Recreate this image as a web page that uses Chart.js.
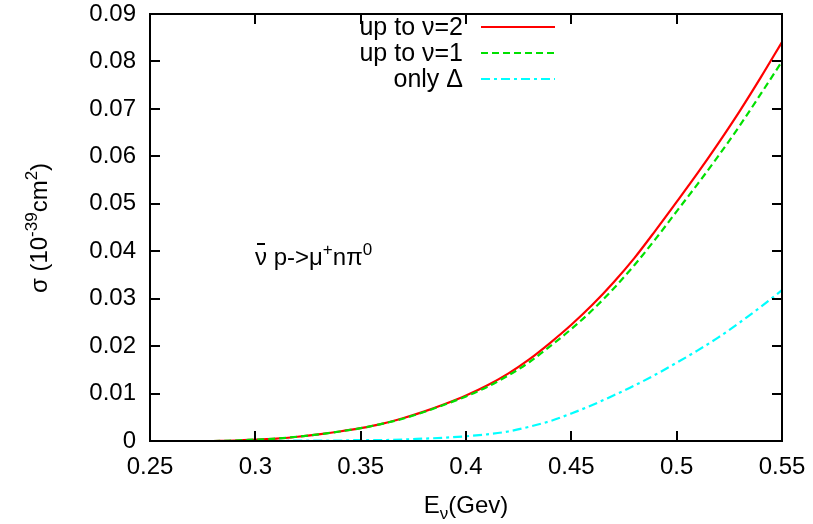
<!DOCTYPE html>
<html>
<head>
<meta charset="utf-8">
<script src="https://cdn.jsdelivr.net/npm/chart.js@4.4.1/dist/chart.umd.min.js"></script>
<style>
  html, body { margin: 0; padding: 0; background: #fff; }
  #wrap { width: 813px; height: 524px; }
</style>
</head>
<body>
<div id="wrap"><canvas id="chart" width="813" height="524"></canvas></div>
<script>
// neutrino energy (GeV)
const energies = [0.28, 0.29, 0.30, 0.31, 0.32, 0.33, 0.34, 0.35, 0.36, 0.37,
                  0.38, 0.39, 0.40, 0.41, 0.42, 0.43, 0.44, 0.45, 0.46, 0.47,
                  0.48, 0.49, 0.50, 0.51, 0.52, 0.53, 0.54, 0.55];
// sigma in 10^-39 cm^2
const upToNu2 = [0, 0.0001, 0.0003, 0.0005, 0.0009, 0.0014, 0.0020, 0.0027, 0.0036, 0.0048,
                 0.0062, 0.0078, 0.0096, 0.0117, 0.0142, 0.0172, 0.0207, 0.0245, 0.0287, 0.0334,
                 0.0386, 0.0444, 0.0504, 0.0565, 0.0629, 0.0696, 0.0767, 0.0841];
const upToNu1 = [0, 0.0001, 0.0003, 0.0005, 0.0009, 0.0014, 0.0020, 0.0027, 0.0036, 0.0047,
                 0.0061, 0.0077, 0.0094, 0.0114, 0.0138, 0.0166, 0.0200, 0.0236, 0.0276, 0.0321,
                 0.0371, 0.0426, 0.0484, 0.0542, 0.0602, 0.0665, 0.0732, 0.0800];
const onlyDelta = [0, 0, 0, 0, 0.0001, 0.0001, 0.0001, 0.0002, 0.0002, 0.0003,
                   0.0005, 0.0007, 0.0010, 0.0014, 0.0020, 0.0030, 0.0042, 0.0058, 0.0076, 0.0096,
                   0.0117, 0.0140, 0.0165, 0.0191, 0.0219, 0.0250, 0.0283, 0.0318];
const seriesNames = ['up to \u03bd=2', 'up to \u03bd=1', 'only \u0394'];
const xTicks = [0.25, 0.3, 0.35, 0.4, 0.45, 0.5, 0.55];
const yTicks = [0, 0.01, 0.02, 0.03, 0.04, 0.05, 0.06, 0.07, 0.08, 0.09];

const FONT = "'Liberation Sans', Arial, sans-serif";
Chart.defaults.font.family = FONT;
Chart.defaults.font.size = 24;
Chart.defaults.color = '#000';

const fmt = v => String(+(+v).toFixed(3));
const pts = arr => energies.map((e, i) => ({ x: e, y: arr[i] }));

// gnuplot style frame with inward ticks on every side
const framePlugin = {
  id: 'frame',
  afterDatasetsDraw(chart) {
    const { ctx, chartArea: a, scales } = chart;
    ctx.save();
    ctx.strokeStyle = '#000';
    ctx.lineWidth = 2;
    ctx.beginPath();
    const tl = 10;
    xTicks.forEach(t => {
      const px = Math.round(scales.x.getPixelForValue(t));
      ctx.moveTo(px, a.bottom); ctx.lineTo(px, a.bottom - tl);
      ctx.moveTo(px, a.top); ctx.lineTo(px, a.top + tl);
    });
    yTicks.forEach(t => {
      const py = Math.round(scales.y.getPixelForValue(t));
      ctx.moveTo(a.left, py); ctx.lineTo(a.left + tl, py);
      ctx.moveTo(a.right, py); ctx.lineTo(a.right - tl, py);
    });
    ctx.stroke();
    ctx.strokeRect(a.left, a.top, a.right - a.left, a.bottom - a.top);
    ctx.restore();
  }
};

// legend, axis titles and the reaction label
const textPlugin = {
  id: 'texts',
  afterDraw(chart) {
    const { ctx } = chart;
    ctx.save();
    ctx.fillStyle = '#000';
    ctx.textBaseline = 'alphabetic';
    const big = '24px ' + FONT, small = '17px ' + FONT;

    // legend
    chart.data.datasets.forEach((ds, i) => {
      const yb = 35 + i * 26;
      ctx.font = '25px ' + FONT;
      ctx.textAlign = 'right';
      ctx.fillText(ds.label, 463, yb);
      ctx.beginPath();
      ctx.strokeStyle = ds.borderColor;
      ctx.lineWidth = 2;
      ctx.setLineDash(ds.borderDash || []);
      ctx.moveTo(481, yb - 8);
      ctx.lineTo(555, yb - 8);
      ctx.stroke();
    });
    ctx.setLineDash([]);
    ctx.textAlign = 'left';

    // pieces: [text, superscript?]
    const drawRun = (parts, x, y) => {
      parts.forEach(([t, sup]) => {
        ctx.font = sup ? small : big;
        ctx.fillText(t, x, sup ? y - 10 : y);
        x += ctx.measureText(t).width;
      });
      return x;
    };
    const runWidth = parts => parts.reduce((w, [t, sup]) => {
      ctx.font = sup ? small : big;
      return w + ctx.measureText(t).width;
    }, 0);

    // x title with subscript nu
    ctx.font = big;
    const wE = ctx.measureText('E').width;
    ctx.font = small;
    const wNu = ctx.measureText('\u03bd').width;
    ctx.font = big;
    const wG = ctx.measureText('(Gev)').width;
    const x0 = 466 - (wE + wNu + wG) / 2;
    ctx.fillText('E', x0, 513);
    ctx.font = small;
    ctx.fillText('\u03bd', x0 + wE, 519);
    ctx.font = big;
    ctx.fillText('(Gev)', x0 + wE + wNu, 513);

    // y title
    const yt = [['\u03c3 (10', 0], ['-39', 1], ['cm', 0], ['2', 1], [')', 0]];
    ctx.save();
    ctx.translate(47, 228);
    ctx.rotate(-Math.PI / 2);
    drawRun(yt, -runWidth(yt) / 2, 0);
    ctx.restore();

    // reaction label
    const ax = 255, ay = 265;
    ctx.font = big;
    const wn = ctx.measureText('\u03bd').width;
    ctx.fillText('\u03bd', ax, ay);
    ctx.fillRect(ax + 2, ay - 22, wn - 4, 2);
    drawRun([[' p->\u03bc', 0], ['+', 1], ['n\u03c0', 0], ['0', 1]], ax + wn, ay);

    ctx.restore();
  }
};

new Chart(document.getElementById('chart'), {
  type: 'line',
  data: {
    datasets: [
      { label: seriesNames[0], data: pts(upToNu2), borderColor: '#ff0000', borderWidth: 2.2, order: 3 },
      { label: seriesNames[1], data: pts(upToNu1), borderColor: '#00e000', borderWidth: 2.2, borderDash: [7, 4], order: 2 },
      { label: seriesNames[2], data: pts(onlyDelta), borderColor: '#00ffff', borderWidth: 2.2, borderDash: [9, 4, 3, 4], order: 1 }
    ]
  },
  options: {
    responsive: false,
    animation: false,
    events: [],
    layout: { padding: { top: 14, right: 31, left: 0, bottom: 0 } },
    elements: {
      point: { radius: 0 },
      line: { fill: false, cubicInterpolationMode: 'monotone' }
    },
    plugins: { legend: { display: false }, tooltip: { enabled: false } },
    scales: {
      x: {
        type: 'linear', min: 0.25, max: 0.55,
        afterBuildTicks: s => { s.ticks = xTicks.map(v => ({ value: v })); },
        afterFit: s => { s.height = 83; s.paddingLeft = 0; s.paddingRight = 0; },
        grid: { display: false, drawTicks: false },
        border: { display: false },
        ticks: { callback: fmt, padding: 12, maxRotation: 0, autoSkip: false }
      },
      y: {
        min: 0, max: 0.09,
        afterBuildTicks: s => { s.ticks = yTicks.map(v => ({ value: v })); },
        afterFit: s => { s.width = 150; s.paddingTop = 0; s.paddingBottom = 0; },
        grid: { display: false, drawTicks: false },
        border: { display: false },
        ticks: { callback: fmt, padding: 14, autoSkip: false }
      }
    }
  },
  plugins: [framePlugin, textPlugin]
});
</script>
</body>
</html>
